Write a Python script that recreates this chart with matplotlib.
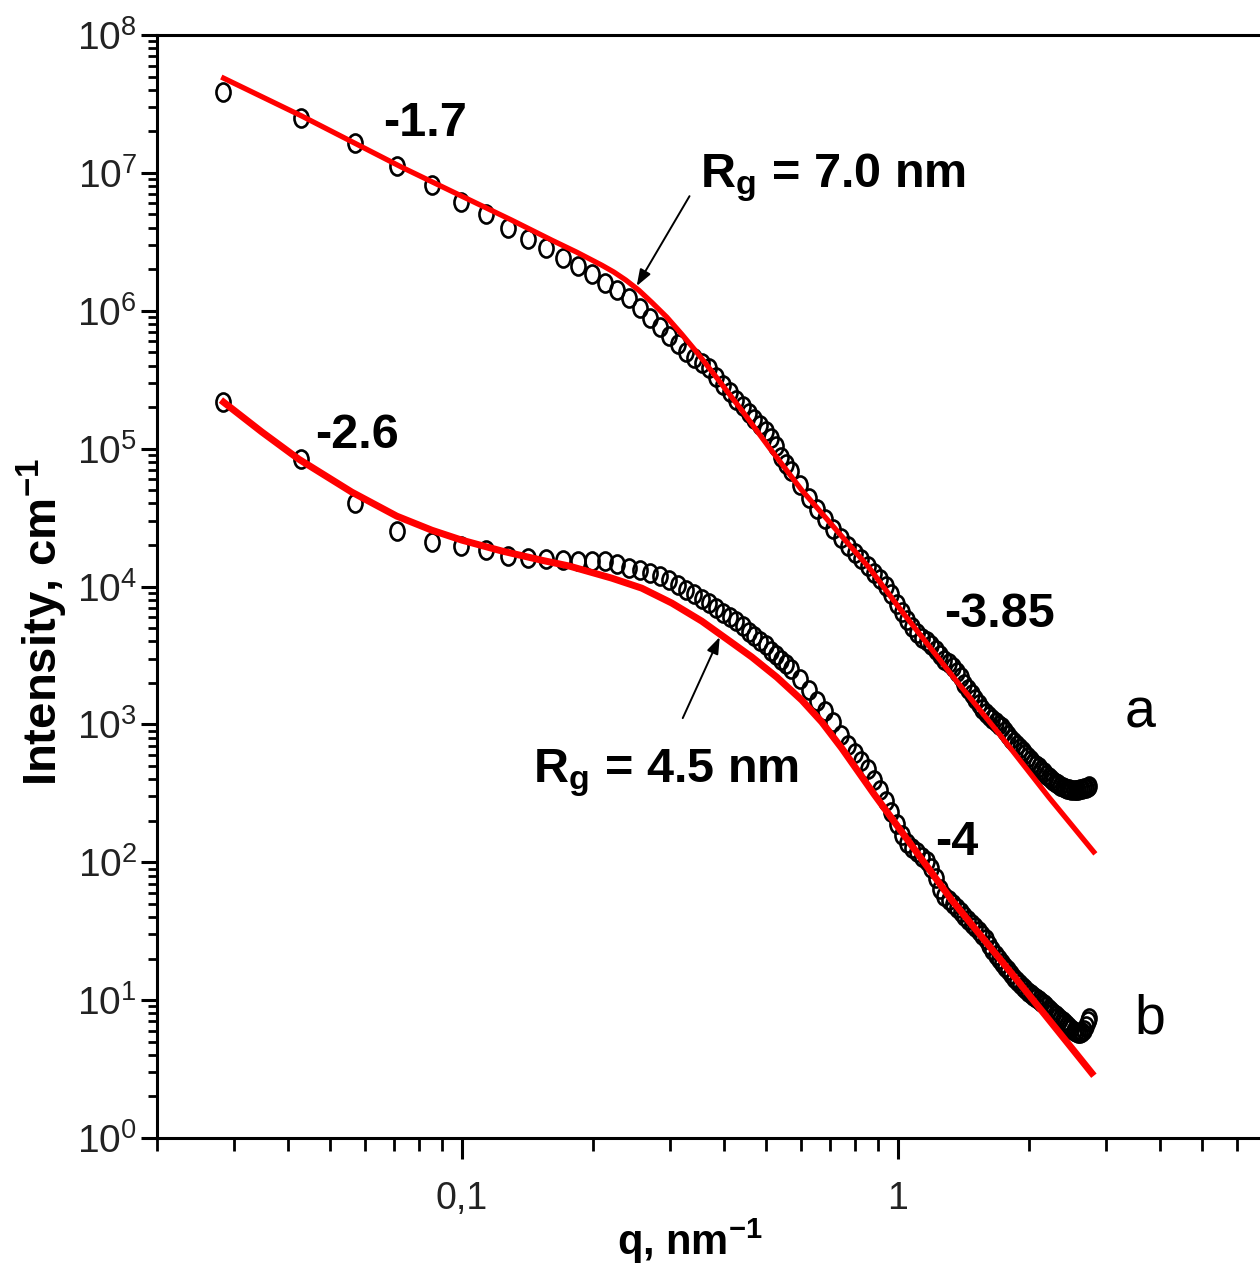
import numpy as np
import matplotlib
matplotlib.use('Agg')
import matplotlib.pyplot as plt
from matplotlib import font_manager
from matplotlib.path import Path
from matplotlib.ticker import FixedLocator, FixedFormatter, NullFormatter

# scattering vector, nm^-1 (same grid for both samples)
q = [0.0284, 0.0427, 0.0569, 0.0711, 0.0853, 0.0995, 0.1138, 0.1280, 0.1422, 0.1564,
     0.1706, 0.1848, 0.1990, 0.2133, 0.2275, 0.2417, 0.2559, 0.2701, 0.2843, 0.2986,
     0.3128, 0.3270, 0.3412, 0.3554, 0.3696, 0.3839, 0.3981, 0.4123, 0.4265, 0.4407,
     0.4549, 0.4692, 0.4834, 0.4976, 0.5118, 0.5260, 0.5402, 0.5545, 0.5687,
     0.5971, 0.6255, 0.6540, 0.6824, 0.7108, 0.7393, 0.7677, 0.7961, 0.8246, 0.8530,
     0.8814, 0.9098, 0.9383, 0.9667, 0.9951, 1.0236, 1.0520, 1.0804, 1.1089, 1.1373,
     1.1657, 1.1942, 1.2226, 1.2510, 1.2795, 1.3079, 1.3363, 1.3647, 1.3932, 1.4216,
     1.4500, 1.4785, 1.5069, 1.5353, 1.5638, 1.5922, 1.6206, 1.6491, 1.6775, 1.7059,
     1.7343, 1.7628, 1.7912, 1.8196, 1.8481, 1.8765, 1.9049, 1.9334, 1.9618, 1.9902,
     2.0187, 2.0471, 2.0755, 2.1040, 2.1324, 2.1608, 2.1892, 2.2177, 2.2461, 2.2745,
     2.3030, 2.3314, 2.3598, 2.3883, 2.4167, 2.4451, 2.4736, 2.5020, 2.5304, 2.5588,
     2.5873, 2.6157, 2.6441, 2.6726, 2.7010, 2.7294, 2.7436]

# sample a, intensity cm^-1
I_a = [3.85e7, 2.49e7, 1.64e7, 1.12e7, 8.15e6, 6.14e6, 5.01e6, 3.97e6, 3.30e6, 2.84e6,
       2.41e6, 2.10e6, 1.84e6, 1.58e6, 1.41e6, 1.23e6, 1.04e6, 8.84e5, 7.60e5, 6.54e5,
       5.73e5, 5.01e5, 4.53e5, 4.17e5, 3.84e5, 3.30e5, 2.89e5, 2.57e5, 2.25e5, 2.03e5,
       1.81e5, 1.64e5, 1.48e5, 1.34e5, 1.19e5, 1.04e5, 8.67e4, 7.73e4, 6.87e4,
       5.43e4, 4.38e4, 3.64e4, 3.08e4, 2.61e4, 2.24e4, 1.96e4, 1.75e4, 1.58e4, 1.41e4,
       1.25e4, 1.13e4, 1.01e4, 8.81e3, 7.45e3, 6.52e3, 5.70e3, 5.08e3, 4.59e3, 4.23e3,
       4.02e3, 3.76e3, 3.46e3, 3.18e3, 2.92e3, 2.79e3, 2.61e3, 2.39e3, 2.20e3, 1.96e3,
       1.80e3, 1.66e3, 1.52e3, 1.40e3, 1.29e3, 1.21e3, 1.15e3, 1.09e3, 1.04e3, 989,
       955, 893, 836, 782, 743, 706, 673, 640, 608, 578,
       551, 524, 507, 490, 467, 451, 429, 415, 401, 388,
       375, 369, 357, 351, 345, 340, 340, 334, 334, 334,
       334, 340, 340, 345, 345, 351, 357]

# sample b, intensity cm^-1
I_b = [2.17e5, 8.39e4, 4.03e4, 2.52e4, 2.10e4, 1.96e4, 1.84e4, 1.66e4, 1.61e4, 1.58e4,
       1.55e4, 1.53e4, 1.53e4, 1.53e4, 1.45e4, 1.36e4, 1.31e4, 1.25e4, 1.19e4, 1.11e4,
       1.02e4, 9.42e3, 8.81e3, 8.11e3, 7.59e3, 6.97e3, 6.41e3, 6.00e3, 5.61e3, 5.16e3,
       4.67e3, 4.37e3, 4.02e3, 3.76e3, 3.40e3, 3.18e3, 2.92e3, 2.74e3, 2.52e3,
       2.13e3, 1.77e3, 1.48e3, 1.25e3, 1.04e3, 836, 708, 619, 542, 474,
       394, 334, 278, 231, 189, 157, 138, 127, 119, 109,
       102, 90.8, 76.7, 64.0, 56.9, 53.2, 49.8, 46.6, 43.6, 40.7,
       38.1, 35.6, 33.9, 31.7, 29.6, 27.7, 25.1, 23.1, 21.2, 19.9,
       18.6, 17.4, 16.5, 15.5, 14.5, 13.7, 13.1, 12.4, 12.0, 11.5,
       11.1, 10.7, 10.4, 10.0, 9.69, 9.37, 9.06, 8.61, 8.34, 8.06,
       7.80, 7.54, 7.29, 7.05, 6.82, 6.59, 6.38, 6.17, 5.97, 5.87,
       5.77, 5.77, 5.87, 6.07, 6.49, 7.05, 7.41]

# fitted curves (red)
q_fit_a = [0.02844, 0.0430, 0.0728, 0.100, 0.1302, 0.1609, 0.1835, 0.2095, 0.2232,
           0.2378, 0.2547, 0.2728, 0.2953, 0.3196, 0.3459, 0.3804, 0.4387, 0.5060,
           0.6024, 0.7170, 0.8581, 1.021, 1.330, 1.732, 2.220, 2.815]
I_fit_a = [4.86e7, 2.58e7, 1.10e7, 6.78e6, 4.54e6, 3.25e6, 2.66e6, 2.14e6, 1.91e6,
           1.67e6, 1.41e6, 1.15e6, 8.99e5, 6.76e5, 5.01e5, 3.41e5, 1.90e5, 1.03e5,
           5.00e4, 2.65e4, 1.38e4, 6.63e3, 2.28e3, 809, 297, 119]
q_fit_b = [0.02844, 0.0348, 0.04228, 0.05594, 0.07094, 0.0854, 0.100, 0.1235, 0.1526,
           0.1760, 0.2208, 0.2587, 0.3031, 0.3552, 0.4054, 0.4627, 0.5280, 0.6024,
           0.6695, 0.7438, 0.8856, 1.330, 1.895, 2.786]
I_fit_b = [2.17e5, 1.32e5, 8.39e4, 4.84e4, 3.24e4, 2.56e4, 2.17e4, 1.81e4, 1.55e4,
           1.41e4, 1.15e4, 9.73e3, 7.59e3, 5.61e3, 4.16e3, 3.08e3, 2.20e3, 1.50e3,
           1.04e3, 673, 307, 53.2, 13.5, 2.96]

y_ticks = [1e0, 1e1, 1e2, 1e3, 1e4, 1e5, 1e6, 1e7, 1e8]
x_ticks = [0.1, 1]
x_ticklabels = ['0,1', '1']

assert len(q) == len(I_a) == len(I_b)

names = {f.name for f in font_manager.fontManager.ttflist}
FONT = 'Liberation Sans Narrow' if 'Liberation Sans Narrow' in names else 'Liberation Sans'
plt.rcParams['font.family'] = [FONT, 'DejaVu Sans']
plt.rcParams['mathtext.fontset'] = 'custom'
plt.rcParams['mathtext.rm'] = FONT
plt.rcParams['mathtext.it'] = FONT + ':italic'
plt.rcParams['mathtext.bf'] = FONT + ':bold'
plt.rcParams['mathtext.default'] = 'regular'

# slightly tall open circle, like the original
circ = Path.unit_circle()
ell = Path(circ.vertices * [0.78, 1.0], circ.codes)

fig = plt.figure(figsize=(12.6, 12.68), dpi=100)
ax = fig.add_axes([157 / 1260, 130 / 1268, 1176.7 / 1260, 1103 / 1268])
ax.set_xscale('log')
ax.set_yscale('log')
ax.set_xlim(0.02, 10)
ax.set_ylim(1, 1e8)

mk = dict(ls='none', marker=ell, ms=13, mfc='none', mec='black', mew=1.9, zorder=2)
ax.plot(q, I_a, **mk)
ax.plot(q, I_b, **mk)
ax.plot(q_fit_a, I_fit_a, color='#ff0000', lw=3.8, zorder=3)
ax.plot(q_fit_b, I_fit_b, color='#ff0000', lw=5.0, zorder=3)

for s in ax.spines.values():
    s.set_linewidth(2.2)

# minor ticks: 2..9 of every decade
y_minor = [m * 10.0 ** e for e in range(0, 8) for m in range(2, 10)]
x_minor = [m * 10.0 ** e for e in range(-2, 1) for m in range(2, 10)]
ax.yaxis.set_major_locator(FixedLocator(y_ticks))
ax.yaxis.set_minor_locator(FixedLocator(y_minor))
ax.yaxis.set_minor_formatter(NullFormatter())
ax.xaxis.set_major_locator(FixedLocator(x_ticks))
ax.xaxis.set_major_formatter(FixedFormatter(x_ticklabels))
ax.xaxis.set_minor_locator(FixedLocator(x_minor))
ax.xaxis.set_minor_formatter(NullFormatter())

ax.tick_params(axis='y', which='major', direction='out', length=11.5, width=2.2,
               pad=3, labelsize=28, labelcolor='#222222')
ax.tick_params(axis='y', which='minor', direction='out', length=6.5, width=2.0)
ax.tick_params(axis='x', which='major', direction='out', length=15, width=2.2,
               pad=16, labelsize=27, labelcolor='#222222')
ax.tick_params(axis='x', which='minor', direction='out', length=9, width=2.0)

ax.set_xlabel('q, nm$^{-1}$', fontsize=30, fontweight='bold')
ax.xaxis.set_label_coords((690 - 157) / 1176.7, -(1255 - 1138) / 1103)
ax.xaxis.label.set_va('baseline')
ax.set_ylabel('Intensity, cm$^{-1}$', fontsize=34, fontweight='bold')
ax.yaxis.set_label_coords((42 - 157) / 1176.7, (1138 - 622) / 1103)
ax.yaxis.label.set_va('center')
ax.yaxis.label.set_ha('center')

bold = dict(fontsize=35, fontweight='bold', ha='left', va='baseline')
ax.text(0.0659, 1.85e7, '-1.7', **bold)
ax.text(0.3515, 7.87e6, 'R$_g$ = 7.0 nm', **bold)
ax.text(0.046, 1.01e5, '-2.6', **bold)
ax.text(0.1455, 382, 'R$_g$ = 4.5 nm', **bold)
ax.text(1.275, 5.08e3, '-3.85', **bold)
ax.text(1.216, 113, '-4', **bold)
ax.text(3.316, 956, 'a', fontsize=40, ha='left', va='baseline')
ax.text(3.497, 5.77, 'b', fontsize=40, ha='left', va='baseline')

arr = dict(arrowstyle='-|>,head_length=0.5,head_width=0.18', color='black',
           lw=1.4, mutation_scale=20, shrinkA=0, shrinkB=0)
ax.annotate('', xy=(0.2519, 1.51e6), xytext=(0.333, 6.78e6), arrowprops=arr)
ax.annotate('', xy=(0.3906, 4.30e3), xytext=(0.3213, 1.11e3), arrowprops=arr)

fig.savefig('out.png', dpi=100)
